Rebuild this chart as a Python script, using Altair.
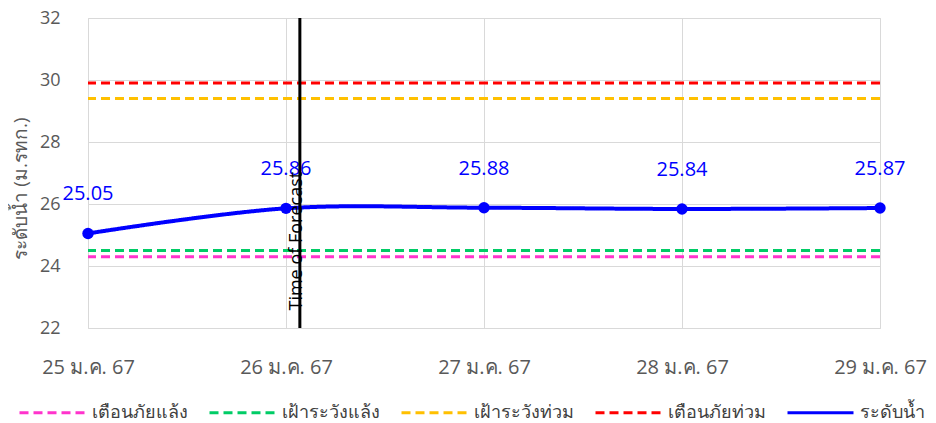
import json
import altair as alt
import pandas as pd

# ---- data ----
dates = ["25 ม.ค. 67", "26 ม.ค. 67", "27 ม.ค. 67", "28 ม.ค. 67", "29 ม.ค. 67"]
levels = [25.05, 25.86, 25.88, 25.84, 25.87]
level_name = "ระดับน้ำ"

threshold_names = ["เตือนภัยแล้ง", "เฝ้าระวังแล้ง", "เฝ้าระวังท่วม", "เตือนภัยท่วม"]
threshold_values = [24.3, 24.5, 29.4, 29.9]
threshold_colors = ["#FF33CC", "#00CC66", "#FFC000", "#FF0000"]
level_color = "#0000FF"

forecast_pos = 1.07          # position of "Time of Forecast" (in day index)
forecast_label = "Time of Forecast"
forecast_label_y = 24.8

y_title = "ระดับน้ำ (ม.รทก.)"
FONT = "Open Sans, Noto Sans, DejaVu Sans, sans-serif"

# ---- tables ----
level_df = pd.DataFrame({"idx": list(range(len(dates))), "level": levels,
                         "series": [level_name] * len(dates)})
thr_df = pd.DataFrame({"series": threshold_names, "value": threshold_values})
fc_df = pd.DataFrame({"x": [forecast_pos], "y": [forecast_label_y], "t": [forecast_label]})

domain = threshold_names + [level_name]
color_scale = alt.Scale(domain=domain, range=threshold_colors + [level_color])
dash_scale = alt.Scale(domain=domain, range=[[9, 5]] * 4 + [[1, 0]])

label_expr = json.dumps(dates, ensure_ascii=False) + "[datum.value]"

x_enc = alt.X("idx:Q", scale=alt.Scale(domain=[0, len(dates) - 1], nice=False),
              axis=alt.Axis(values=list(range(len(dates))), labelExpr=label_expr,
                            title=None, grid=True, ticks=False, domain=False,
                            labelFlush=False, labelPadding=29, labelFontSize=20,
                            labelColor="#595959", gridColor="#D9D9D9"))
y_scale = alt.Scale(domain=[22, 32], nice=False)
y_axis = alt.Axis(values=[22, 24, 26, 28, 30, 32], title=y_title, ticks=False,
                  domain=False, labelPadding=28, labelFontSize=18, labelColor="#595959",
                  titleFontSize=19, titleColor="#595959", titleFontWeight="normal",
                  titleX=-68, titleY=170, titleAngle=270, titleAlign="center",
                  titleBaseline="middle", gridColor="#D9D9D9")

legend = alt.Legend(title=None, orient="none", direction="horizontal", legendX=-70,
                    legendY=360, symbolType="stroke", symbolSize=4356,
                    symbolStrokeWidth=3, labelFontSize=18, labelColor="#404040",
                    columnPadding=15, labelOffset=5)

thr = alt.Chart(thr_df).mark_rule(strokeWidth=3).encode(
    y=alt.Y("value:Q", scale=y_scale, axis=y_axis),
    color=alt.Color("series:N", scale=color_scale, legend=legend, sort=domain),
    strokeDash=alt.StrokeDash("series:N", scale=dash_scale, legend=legend, sort=domain),
)

line = alt.Chart(level_df).mark_line(
    strokeWidth=4, interpolate="catmull-rom",
    point=alt.OverlayMarkDef(size=130, filled=True, color=level_color, opacity=1),
).encode(
    x=x_enc,
    y=alt.Y("level:Q", scale=y_scale, axis=y_axis),
    color=alt.Color("series:N", scale=color_scale, legend=legend, sort=domain),
    strokeDash=alt.StrokeDash("series:N", scale=dash_scale, legend=legend, sort=domain),
)

labels = alt.Chart(level_df).mark_text(dy=-39, fontSize=20, color=level_color).encode(
    x=alt.X("idx:Q"),
    y=alt.Y("level:Q"),
    text=alt.Text("level:Q", format=".2f"),
)

fc_rule = alt.Chart(fc_df).mark_rule(color="black", strokeWidth=3).encode(
    x=alt.X("x:Q"),
)
fc_text = alt.Chart(fc_df).mark_text(angle=270, fontSize=18, color="black",
                                     baseline="middle", align="center", dy=-3).encode(
    x=alt.X("x:Q"), y=alt.Y("y:Q"), text="t:N",
)

chart = alt.layer(thr, line, labels, fc_rule, fc_text).properties(
    width=792, height=310,
    autosize=alt.AutoSizeParams(type="none"),
    padding={"left": 80, "top": 10, "right": 48, "bottom": 95},
).configure_view(stroke=None).configure(font=FONT)

chart.save("out.html", embed_options={"renderer": "svg", "actions": False})
